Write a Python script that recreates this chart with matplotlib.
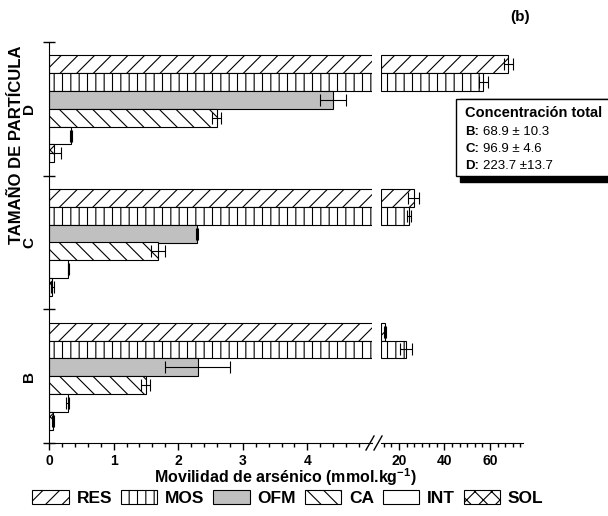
import matplotlib
matplotlib.use('Agg')
import numpy as np
import matplotlib.pyplot as plt
from matplotlib.patches import Patch, Rectangle
from matplotlib.lines import Line2D

plt.rcParams['font.family'] = ['Liberation Sans', 'DejaVu Sans']
plt.rcParams['font.weight'] = 'bold'
plt.rcParams['mathtext.fontset'] = 'custom'
plt.rcParams['mathtext.rm'] = 'Liberation Sans'
plt.rcParams['mathtext.bf'] = 'Liberation Sans:bold'
plt.rcParams['hatch.linewidth'] = 0.8

## Data (mmol/kg), groups bottom -> top
groups = ['B', 'C', 'D']
fractions = ['RES', 'MOS', 'OFM', 'CA', 'INT', 'SOL']
res = [14.0, 26.5, 68.0]
res_err = [0.5, 2.5, 2.0]
mos = [23.0, 24.4, 57.0]
mos_err = [2.6, 1.0, 2.0]
ofm = [2.30, 2.29, 4.40]
ofm_err = [0.50, 0.02, 0.20]
ca = [1.50, 1.69, 2.60]
ca_err = [0.07, 0.11, 0.07]
inter = [0.29, 0.30, 0.34]
inter_err = [0.02, 0.01, 0.02]
sol = [0.06, 0.05, 0.07]
sol_err = [0.02, 0.02, 0.12]
total_groups = ['B', 'C', 'D']
total_text = ['68.9 ± 10.3', '96.9 ± 4.6', '223.7 ±13.7']

series = [(res, res_err, '//', 'white'),
          (mos, mos_err, '||', 'white'),
          (ofm, ofm_err, '', '#c0c0c0'),
          (ca, ca_err, '\\\\', 'white'),
          (inter, inter_err, '', 'white'),
          (sol, sol_err, 'xx', 'white')]

W, H = 608, 516
def fx(px): return px / W
def fy(py): return 1 - py / H

fig = plt.figure(figsize=(6.08, 5.16), dpi=100)
ax1 = fig.add_axes([fx(49), fy(443), fx(372) - fx(49), fy(42) - fy(443)])
ax2 = fig.add_axes([fx(381), fy(443), fx(523) - fx(381), fy(42) - fy(443)])

lo, hi = 12.1, 74.5
ax1.set_xlim(0, 5)
ax2.set_xlim(lo, hi)
for ax in (ax1, ax2):
    ax.set_ylim(0, 3)

h = 0.8 / 6
centers = np.arange(len(groups)) + 0.5
for k, (vals, errs, hatch, fc) in enumerate(series):
    y = centers + (2.5 - k) * h
    vals = np.array(vals)
    ax1.barh(y, vals, height=h, color=fc, edgecolor='black', hatch=hatch, lw=0.8)
    ax1.errorbar(vals, y, xerr=errs, fmt='none', ecolor='black', elinewidth=0.8,
                 capsize=4, capthick=0.8, zorder=3)
    big = vals > lo
    ax2.barh(y[big], vals[big] - lo, left=lo, height=h, color=fc, edgecolor='black',
             hatch=hatch, lw=0.8)
    ax2.errorbar(vals[big], y[big], xerr=np.array(errs)[big], fmt='none', ecolor='black',
                 elinewidth=0.8, capsize=4, capthick=0.8, zorder=3)

# axes styling
for s in ['top', 'right']:
    ax1.spines[s].set_visible(False)
for s in ['top', 'right', 'left']:
    ax2.spines[s].set_visible(False)
ax1.set_yticks([0, 1, 2, 3])
ax1.set_yticklabels([])
ax1.tick_params(axis='y', direction='inout', length=8, width=1)
ax2.set_yticks([])

ax1.set_xticks([0, 1, 2, 3, 4])
ax1.set_xticks(np.arange(0.2, 5, 0.2), minor=True)
ax2.set_xticks([20, 40, 60])
ax2.set_xticks(np.arange(40 / 3, hi, 20 / 6), minor=True)
for ax in (ax1, ax2):
    ax.tick_params(axis='x', which='major', direction='out', length=5, width=1,
                   labelsize=10, pad=3)
    ax.tick_params(axis='x', which='minor', direction='out', length=3, width=1)
    for lbl in ax.get_xticklabels():
        lbl.set_fontweight('bold')

for g, c in zip(groups, centers):
    ax1.text(-0.062, c, g, transform=ax1.get_yaxis_transform(), rotation=90,
             ha='center', va='center', fontsize=11, fontweight='bold')

# axis break marks
for x0 in (366, 374):
    fig.add_artist(Line2D([fx(x0), fx(x0 + 8)], [fy(450), fy(436)], color='black', lw=1))

fig.text(fx(17), fy(145), 'TAMAÑO DE PARTÍCULA', rotation=90, ha='center', va='center',
         fontsize=12, fontweight='bold')
fig.text(fx(285), fy(477), r'Movilidad de arsénico (mmol.kg$^{\mathbf{-1}}$)',
         ha='center', va='center', fontsize=11.5, fontweight='bold')
fig.text(fx(520), fy(17), '(b)', ha='center', va='center', fontsize=11, fontweight='bold')

# total concentration box with shadow
fig.add_artist(Rectangle((fx(460), fy(182)), fx(160), 83 / H, facecolor='black',
                         edgecolor='black', transform=fig.transFigure))
fig.add_artist(Rectangle((fx(456), fy(176)), fx(160), 77 / H, facecolor='white',
                         edgecolor='black', lw=1, transform=fig.transFigure))
fig.text(fx(465), fy(113), 'Concentración total', ha='left', va='center',
         fontsize=10.5, fontweight='bold')
for i, (g, t) in enumerate(zip(total_groups, total_text)):
    fig.text(fx(465), fy(132 + 17 * i), g + ':', ha='left', va='center',
             fontsize=9.5, fontweight='bold')
    fig.text(fx(483), fy(132 + 17 * i), t, ha='left', va='center',
             fontsize=9.5, fontweight='normal')

handles = [Patch(facecolor=fc, edgecolor='black', hatch=hatch, lw=0.8)
           for (_, _, hatch, fc) in series]
fig.legend(handles, fractions, ncol=6, loc='center', bbox_to_anchor=(fx(288), fy(498)),
           frameon=False, prop={'size': 12.5, 'weight': 'bold'}, handlelength=2.1,
           handleheight=0.9, handletextpad=0.45, columnspacing=0.5, borderaxespad=0,
           borderpad=0)

fig.savefig('out.png', dpi=100)
